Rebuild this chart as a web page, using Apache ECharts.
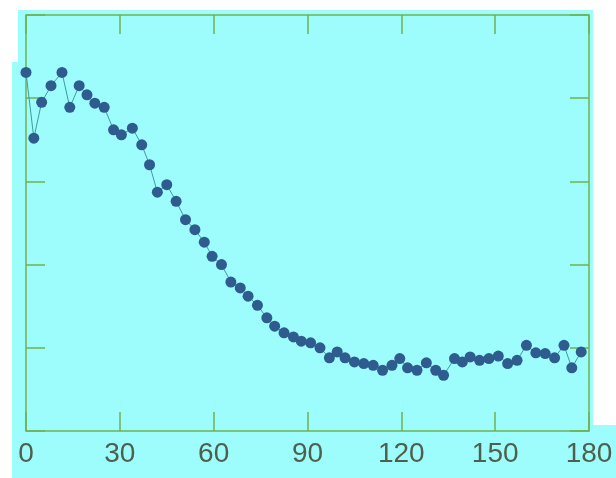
<!DOCTYPE html>
<html>
<head>
<meta charset="utf-8">
<script src="https://cdn.jsdelivr.net/npm/echarts@6/dist/echarts.min.js"></script>
<style>
  html, body { margin: 0; padding: 0; background: #ffffff; }
  #chart { width: 616px; height: 478px; }
</style>
</head>
<body>
<div id="chart"></div>
<script>
// Angle positions (x) and measured response (y) of the scan
const angles = [0, 2.5, 5, 8, 11.5, 14, 17, 19.5, 22, 25, 28, 30.5, 34, 37, 39.5, 42, 45, 48, 51, 54,
  57, 59.5, 62.5, 65.5, 68.5, 71, 74, 77, 79.5, 82.5, 85.5, 88, 91, 94, 97, 99.5, 102, 105, 108, 111,
  114, 117, 119.5, 122, 125, 128, 131, 133.5, 137, 139.5, 142, 145, 148, 151, 154, 157, 160, 163, 166,
  169, 172, 174.5, 177.5];
const response = [4.31, 3.52, 3.95, 4.15, 4.31, 3.89, 4.15, 4.04, 3.94, 3.89, 3.62, 3.56, 3.64, 3.44, 3.20,
  2.87, 2.96, 2.76, 2.54, 2.42, 2.27, 2.10, 2.00, 1.79, 1.72, 1.62, 1.51, 1.36, 1.26, 1.18, 1.13, 1.08,
  1.06, 1.00, 0.88, 0.95, 0.88, 0.83, 0.81, 0.79, 0.73, 0.79, 0.87, 0.76, 0.73, 0.82, 0.73, 0.67, 0.87,
  0.83, 0.89, 0.85, 0.87, 0.90, 0.81, 0.85, 1.03, 0.94, 0.93, 0.88, 1.03, 0.76, 0.95];
const xTicks = [0, 30, 60, 90, 120, 150, 180];

const frameColor = '#6fb24f';
const points = angles.map((a, i) => [a, response[i]]);

// inward tick marks shared by all four sides of the frame
const tickStyle = { show: true, inside: true, length: 19, lineStyle: { color: frameColor, width: 1.5 } };
const hiddenLine = { show: false, onZero: false };

const chart = echarts.init(document.getElementById('chart'), null, { renderer: 'canvas' });
chart.setOption({
  animation: false,
  graphic: [
    { type: 'rect', z: -10, silent: true, shape: { x: 18, y: 10, width: 575, height: 468 }, style: { fill: '#9dfcfc' } },
    { type: 'rect', z: -10, silent: true, shape: { x: 12, y: 62, width: 8, height: 416 }, style: { fill: '#9dfcfc' } },
    { type: 'rect', z: -10, silent: true, shape: { x: 592, y: 425, width: 24, height: 53 }, style: { fill: '#9dfcfc' } }
  ],
  grid: { left: 26, top: 15, right: 27, bottom: 47, show: true, borderColor: frameColor, borderWidth: 1.5, backgroundColor: 'transparent' },
  xAxis: [
    {
      type: 'value', position: 'bottom', min: 0, max: 180, interval: 30,
      axisLine: hiddenLine,
      axisTick: tickStyle,
      axisLabel: {
        margin: 9, fontSize: 28, color: '#4e5f4c', fontFamily: 'Liberation Sans, Arial, sans-serif',
        formatter: v => (xTicks.includes(v) ? String(v) : '')
      },
      splitLine: { show: false }
    },
    {
      type: 'value', position: 'top', min: 0, max: 180, interval: 30,
      axisLine: hiddenLine,
      axisTick: tickStyle,
      axisLabel: { show: false },
      splitLine: { show: false }
    }
  ],
  yAxis: [
    {
      type: 'value', position: 'left', min: 0, max: 5, interval: 1,
      axisLine: hiddenLine,
      axisTick: tickStyle,
      axisLabel: { show: false },
      splitLine: { show: false }
    },
    {
      type: 'value', position: 'right', min: 0, max: 5, interval: 1,
      axisLine: hiddenLine,
      axisTick: tickStyle,
      axisLabel: { show: false },
      splitLine: { show: false }
    }
  ],
  series: [{
    type: 'line',
    data: points,
    symbol: 'circle',
    symbolSize: 11,
    showAllSymbol: true,
    lineStyle: { color: '#3f9aa0', width: 1 },
    itemStyle: { color: '#2f5c8e' },
    clip: false
  }]
});
</script>
</body>
</html>
